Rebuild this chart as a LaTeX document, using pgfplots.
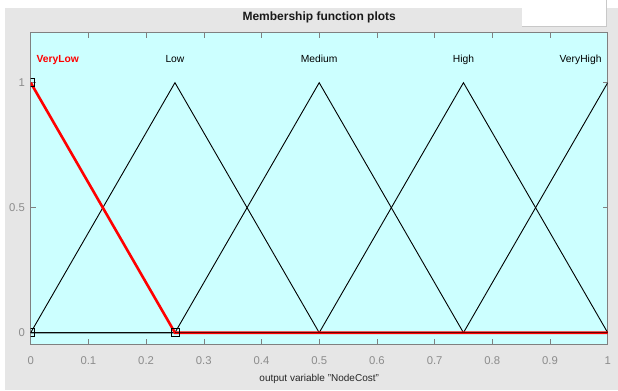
\documentclass[border=0pt]{standalone}
\usepackage{pgfplots}
\pgfplotsset{compat=1.18}
\usepackage{fontspec}
\setmainfont{Liberation Sans}
\definecolor{figgray}{HTML}{E6E6E6}
\definecolor{axbg}{HTML}{CCFFFF}
\definecolor{axline}{HTML}{808080}
\definecolor{ticktext}{HTML}{8C8C8C}
\definecolor{boxedge}{HTML}{C8C8C8}

\begin{document}
\begin{tikzpicture}
% figure window background
\fill[white] (0pt,0pt) rectangle (618pt,390pt);
\fill[figgray] (5pt,0pt) rectangle (618pt,382pt);
% small white panel in the upper right corner
\fill[white] (522pt,364.3pt) rectangle (606pt,390pt);
\draw[boxedge, line width=0.8pt] (522pt,364.3pt) -- (606pt,364.3pt) -- (606pt,390pt);

\begin{axis}[
  at={(30.7pt,46.3pt)}, anchor=south west,
  scale only axis, width=577pt, height=311.4pt,
  xmin=0, xmax=1, ymin=-0.0456, ymax=1.2,
  axis background/.style={fill=axbg},
  axis line style={axline, line width=0.7pt},
  tick style={axline, line width=0.6pt},
  major tick length=5pt,
  tick align=inside,
  xtick={0,0.1,0.2,0.3,0.4,0.5,0.6,0.7,0.8,0.9,1},
  ytick={0,0.5,1},
  /pgf/number format/assume math mode=true,
  ticklabel style={font=\fontsize{11.3}{13}\selectfont, text=ticktext},
  xticklabel style={anchor=base, yshift=-20.3pt, inner sep=0pt},
  yticklabel style={anchor=east, xshift=-5.7pt, inner sep=0pt},
  title={Membership function plots},
  title style={at={(axis description cs:0.5,1)}, anchor=base, yshift=6.3pt,
    font=\bfseries\fontsize{12}{14}\selectfont, text=black!90},
  xlabel={output variable "NodeCost"},
  xlabel style={at={(axis description cs:0.5,0)}, anchor=base, yshift=-37.5pt,
    font=\fontsize{10}{12}\selectfont, text=black!85},
  clip marker paths=true,
]
% membership functions over the whole output range
\addplot[black, line width=0.9pt] coordinates {(0,0) (0.25,1) (0.5,0) (1,0)};
\addplot[black, line width=0.9pt] coordinates {(0,0) (0.25,0) (0.5,1) (0.75,0) (1,0)};
\addplot[black, line width=0.9pt] coordinates {(0,0) (0.5,0) (0.75,1) (1,0)};
\addplot[black, line width=0.9pt] coordinates {(0,0) (0.75,0) (1,1)};
% selected function
\addplot[red, line width=2.6pt] coordinates {(0,1) (0.25,0) (1,0)};
\addplot[black!60!red, line width=0.45pt] coordinates {(0.25,0) (1,0)};
% parameter handles
\addplot[only marks, mark=square, mark size=4pt, black, line width=0.6pt]
  coordinates {(0,1) (0,0) (0.25,0)};

\node[anchor=base, text=red, font=\bfseries\fontsize{10.3}{12}\selectfont] at (axis cs:0.0468,1.082) {VeryLow};
\node[anchor=base, font=\fontsize{10.3}{12}\selectfont] at (axis cs:0.25,1.082) {Low};
\node[anchor=base, font=\fontsize{10.3}{12}\selectfont] at (axis cs:0.5,1.082) {Medium};
\node[anchor=base, font=\fontsize{10.3}{12}\selectfont] at (axis cs:0.75,1.082) {High};
\node[anchor=base, font=\fontsize{10.3}{12}\selectfont] at (axis cs:0.953,1.082) {VeryHigh};
\end{axis}
\end{tikzpicture}
\end{document}
